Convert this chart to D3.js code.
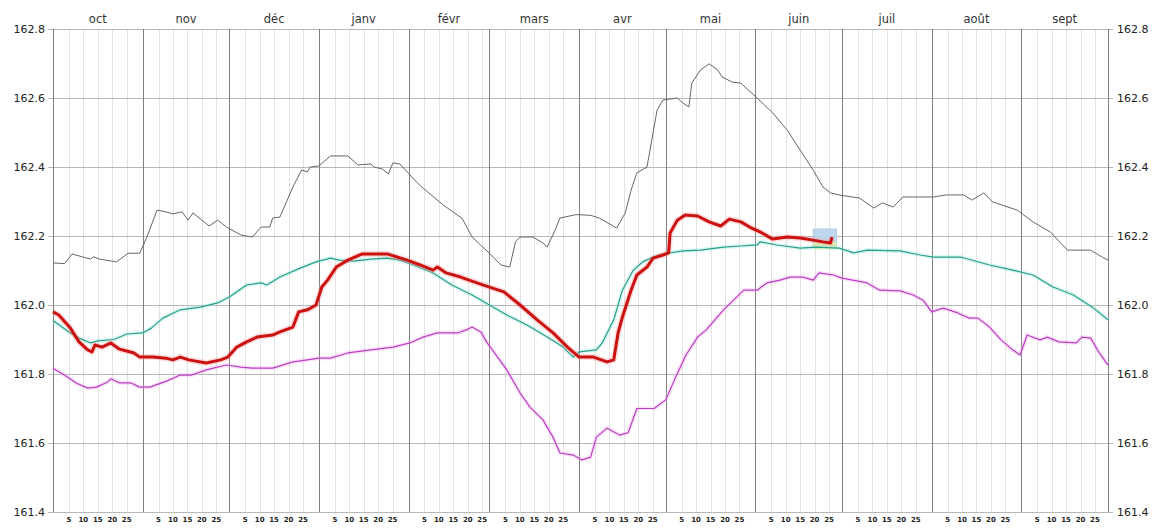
<!DOCTYPE html>
<html>
<head>
<meta charset="utf-8">
<script src="https://cdn.jsdelivr.net/npm/d3@7"></script>
<style>
  body { margin: 0; background: #fff; }
  svg { display: block; }
  text { font-family: "DejaVu Sans", Verdana, sans-serif; }
</style>
</head>
<body>
<svg id="chart" width="1159" height="529"></svg>
<script>
// month names along the top and day ticks along the bottom
var monthLabels = ["oct", "nov", "déc", "janv", "févr", "mars", "avr", "mai", "juin", "juil", "août", "sept"];
var dayTicks = [5, 10, 15, 20, 25];
var yTicks = [161.4, 161.6, 161.8, 162.0, 162.2, 162.4, 162.6, 162.8];

// series: [days since 1 oct, level]
var maxSeries = [
  [0,162.122],[4,162.12],[6.6,162.148],[10,162.14],[13,162.133],[14,162.14],[16,162.133],[22,162.125],
  [26,162.15],[30,162.15],[32.5,162.197],[36,162.275],[39,162.27],[41.5,162.264],[44.6,162.27],[46.7,162.246],
  [48.4,162.267],[54,162.229],[57,162.246],[60,162.226],[65,162.203],[69,162.197],[72,162.226],[75,162.226],
  [76,162.252],[78.5,162.255],[83,162.342],[86,162.391],[88,162.386],[89,162.4],[92,162.403],[96,162.432],
  [102,162.432],[105.5,162.406],[110,162.409],[111,162.4],[114,162.394],[116,162.38],[117.6,162.412],[120,162.409],
  [126,162.354],[128,162.339],[135,162.29],[140,162.26],[141.5,162.252],[145,162.197],[151,162.15],[155,162.116],
  [158,162.11],[160,162.183],[161.6,162.197],[166,162.197],[169.5,162.18],[171,162.168],[173.7,162.217],[175.4,162.252],
  [181,162.262],[186,162.26],[189,162.252],[195,162.223],[198,162.267],[200,162.333],[202,162.383],[205.5,162.4],
  [209,162.565],[211,162.594],[216,162.6],[218,162.585],[220,162.574],[221,162.643],[224,162.681],[227,162.699],
  [230,162.681],[231.5,162.661],[235,162.646],[238,162.643],[243.6,162.6],[249,162.557],[254,162.507],[258.5,162.449],
  [263,162.391],[266.4,162.342],[269,162.325],[272,162.319],[279,162.31],[284,162.281],[287,162.296],[290.7,162.284],
  [294,162.313],[297,162.313],[304.5,162.313],[309,162.319],[315,162.319],[318,162.304],[322,162.325],[325,162.299],
  [333.6,162.275],[339,162.241],[345,162.212],[351,162.159],[359,162.159],[363,162.139],[365,162.13]
];

var meanSeries = [
  [0,161.955],[6,161.919],[9,161.904],[13,161.89],[15.6,161.896],[21,161.9],[25.6,161.916],[31,161.919],
  [34,161.933],[38,161.962],[44,161.986],[51,161.994],[57,162.006],[61,162.023],[67,162.058],[72,162.064],
  [74,162.058],[78.5,162.081],[85.5,162.107],[91,162.125],[96,162.136],[99,162.13],[104,162.127],[110,162.133],
  [115.6,162.136],[120,162.13],[124.6,162.116],[131.5,162.093],[138,162.058],[145,162.029],[151,162.0],[157,161.971],
  [164,161.942],[171,161.907],[176.5,161.878],[180,161.849],[182,161.864],[188,161.87],[190,161.89],[194,161.957],
  [197,162.043],[200.7,162.1],[204,162.125],[207.6,162.139],[212.5,162.15],[218,162.157],[224,162.159],[232,162.168],
  [238,162.171],[243.6,162.174],[244.6,162.183],[250.5,162.174],[258.5,162.165],[264,162.168],[272,162.165],[277,162.151],
  [281.7,162.159],[293,162.157],[300,162.145],[304.5,162.139],[314,162.139],[324,162.116],[332,162.101],[339,162.087],
  [346,162.052],[353,162.029],[360,161.991],[365,161.957]
];

var minSeries = [
  [0,161.817],[5,161.791],[8,161.774],[12,161.759],[15,161.762],[19,161.777],[20,161.786],[23,161.774],
  [27,161.774],[30,161.762],[33.5,161.762],[39.5,161.78],[44,161.797],[48,161.797],[53,161.812],[60,161.826],
  [65,161.82],[69,161.817],[76,161.817],[83,161.835],[88,161.841],[92,161.846],[96,161.846],[102,161.861],
  [110,161.87],[117.6,161.878],[123.5,161.89],[128,161.907],[133,161.919],[140,161.919],[143,161.928],[145,161.936],
  [148,161.922],[150,161.893],[152,161.87],[157,161.812],[161.6,161.745],[165,161.704],[169.5,161.667],[173,161.617],
  [175.4,161.571],[180,161.565],[183,161.551],[186,161.559],[188,161.617],[191.7,161.643],[196,161.623],[199,161.63],
  [202,161.70],[208,161.70],[212,161.725],[215,161.783],[219,161.855],[223,161.907],[226,161.928],[232,161.986],
  [239,162.043],[243.6,162.043],[247,162.064],[251.5,162.072],[255,162.081],[259.5,162.081],[263,162.072],[265,162.093],
  [270,162.087],[273,162.078],[281.7,162.064],[286,162.043],[293,162.041],[297.6,162.029],[301,162.014],[304,161.98],
  [308,161.991],[313,161.977],[317,161.962],[320,161.962],[324,161.936],[328,161.899],[332,161.87],[334.6,161.855],
  [337,161.913],[341.5,161.899],[344,161.907],[348,161.893],[354,161.89],[356,161.907],[359,161.904],[362,161.861],
  [365,161.826]
];

var currentSeries = [
  [0,161.98],[2,161.971],[6,161.933],[9,161.893],[12,161.87],[13.5,161.864],[14.5,161.884],[17,161.878],
  [20,161.89],[23,161.872],[28,161.861],[30,161.849],[34.6,161.849],[39,161.846],[41.5,161.841],[44,161.849],
  [47,161.841],[53,161.832],[58,161.841],[60.5,161.849],[63.6,161.878],[67,161.893],[70.6,161.907],[76,161.913],
  [78.5,161.922],[83,161.936],[85,161.98],[88,161.986],[91,162.0],[93,162.052],[95,162.072],[98,162.11],
  [102,162.13],[107,162.148],[115.6,162.148],[119,162.139],[122.5,162.13],[127,162.116],[131.5,162.101],[133,162.11],
  [136,162.093],[141,162.081],[146.7,162.064],[151,162.052],[156,162.038],[161.6,162.0],[167.5,161.957],[173,161.919],
  [178,161.878],[182,161.849],[187,161.849],[191.7,161.835],[194,161.841],[195.5,161.919],[197,161.965],[200,162.043],
  [202,162.087],[205.5,162.11],[207.6,162.136],[211,162.145],[213,162.151],[213.5,162.209],[216,162.246],[218.7,162.261],
  [223,162.258],[227,162.241],[231,162.229],[234,162.249],[238,162.241],[241,162.226],[244.6,162.212],[249,162.191],
  [254,162.197],[258.5,162.194],[263,162.188],[266.4,162.183],[269,162.18],[269.5,162.197]
];

// box around the last days of the current year: [from day, to day, top, bottom]
var todayBox = [263, 271, 162.22, 162.17];

var svg = d3.select("svg#chart"),
    margin = {left: 53, right: 51, top: 29, bottom: 17},
    width = +svg.attr("width"),
    height = +svg.attr("height");

var start = new Date(Date.UTC(2018, 9, 1)),
    end = new Date(Date.UTC(2019, 9, 1));

var x = d3.scaleUtc().domain([start, end]).range([margin.left, width - margin.right]);
var y = d3.scaleLinear().domain([161.4, 162.8]).range([height - margin.bottom, margin.top]);

function dayDate(d) { return new Date(start.getTime() + d * 864e5); }

var months = d3.utcMonth.range(start, end);

// minor day grid
var dayLines = [];
months.forEach(function(m) {
  dayTicks.forEach(function(d) {
    dayLines.push(new Date(m.getTime() + (d + 0.5) * 864e5));
  });
});

var grid = svg.append("g").attr("class", "grid");

grid.selectAll("line.day")
  .data(dayLines)
  .enter().append("line")
  .attr("class", "day")
  .attr("x1", function(d) { return Math.round(x(d)) + 0.5; })
  .attr("x2", function(d) { return Math.round(x(d)) + 0.5; })
  .attr("y1", y(162.8))
  .attr("y2", y(161.4))
  .style("stroke", "#e2e2e2");

grid.selectAll("line.h")
  .data(yTicks)
  .enter().append("line")
  .attr("class", "h")
  .attr("x1", margin.left - 5)
  .attr("x2", width - margin.right + 5)
  .attr("y1", function(d) { return Math.round(y(d)) + 0.5; })
  .attr("y2", function(d) { return Math.round(y(d)) + 0.5; })
  .style("stroke", "#b8b8b8");

grid.selectAll("line.month")
  .data(months.concat([end]))
  .enter().append("line")
  .attr("class", "month")
  .attr("x1", function(d) { return Math.round(x(d)) + 0.5; })
  .attr("x2", function(d) { return Math.round(x(d)) + 0.5; })
  .attr("y1", y(162.8))
  .attr("y2", y(161.4))
  .style("stroke", "#808080");

// axis labels
svg.append("g").selectAll("text")
  .data(yTicks)
  .enter().append("text")
  .attr("x", margin.left - 8)
  .attr("y", function(d) { return y(d); })
  .attr("dy", "0.35em")
  .attr("text-anchor", "end")
  .style("font-size", "11px")
  .style("fill", "#222")
  .text(function(d) { return d.toFixed(1); });

svg.append("g").selectAll("text")
  .data(yTicks)
  .enter().append("text")
  .attr("x", width - margin.right + 9)
  .attr("y", function(d) { return y(d); })
  .attr("dy", "0.35em")
  .attr("text-anchor", "start")
  .style("font-size", "11px")
  .style("fill", "#222")
  .text(function(d) { return d.toFixed(1); });

svg.append("g").selectAll("text")
  .data(months)
  .enter().append("text")
  .attr("x", function(d, i) { return (x(d) + x(d3.utcMonth.offset(d, 1))) / 2; })
  .attr("y", 19)
  .attr("dy", "0.35em")
  .attr("text-anchor", "middle")
  .style("font-size", "11.5px")
  .style("fill", "#333")
  .text(function(d, i) { return monthLabels[i]; });

svg.append("g").selectAll("text")
  .data(dayLines)
  .enter().append("text")
  .attr("x", function(d) { return x(d); })
  .attr("y", 522)
  .attr("text-anchor", "middle")
  .style("font-size", "7px")
  .style("font-weight", "bold")
  .style("fill", "#222")
  .text(function(d, i) { return dayTicks[i % dayTicks.length]; });

// today box
var bx0 = x(dayDate(todayBox[0])), bx1 = x(dayDate(todayBox[1]));
svg.append("rect")
  .attr("x", bx0)
  .attr("y", y(todayBox[2]))
  .attr("width", bx1 - bx0)
  .attr("height", y(todayBox[3]) - y(todayBox[2]))
  .style("fill", "#b9d3ee")
  .style("stroke", "#a8c4e4")
  .style("opacity", 0.9);
svg.append("rect")
  .attr("x", bx0)
  .attr("y", y(todayBox[3]) - 5)
  .attr("width", bx1 - bx0)
  .attr("height", 8)
  .style("fill", "#e4f0a0")
  .style("opacity", 0.8);

// lines
var line = d3.line()
  .x(function(d) { return x(dayDate(d[0])); })
  .y(function(d) { return y(d[1]); });

function drawSeries(data, color, halo, w) {
  if (halo) {
    svg.append("path").datum(data)
      .attr("d", line)
      .style("fill", "none")
      .style("stroke", halo)
      .style("stroke-width", w + 3)
      .style("opacity", 0.35)
      .style("stroke-linejoin", "round");
  }
  svg.append("path").datum(data)
    .attr("d", line)
    .style("fill", "none")
    .style("stroke", color)
    .style("stroke-width", w)
    .style("stroke-linejoin", "round");
}

drawSeries(maxSeries, "#666666", null, 1);
drawSeries(meanSeries, "#2a9d8a", "#9ee8dc", 1.2);
drawSeries(minSeries, "#b940c0", "#f0b0f0", 1.2);
drawSeries(currentSeries, "#cc1111", "#f59a9a", 3);
</script>
</body>
</html>
